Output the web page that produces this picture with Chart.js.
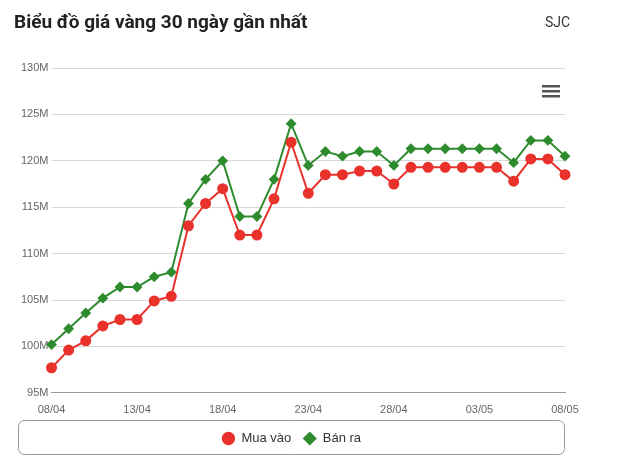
<!DOCTYPE html>
<html><head><meta charset="utf-8">
<script src="https://cdn.jsdelivr.net/npm/chart.js@4"></script>
<style>
body{margin:0;background:#fff;font-family:Roboto,"Open Sans",sans-serif;}
#wrap{position:relative;width:640px;height:469px;}
#t{position:absolute;left:14px;top:10px;font-size:19px;font-weight:bold;color:#222;}
#s{position:absolute;left:545px;top:14px;font-size:14px;color:#333;}
canvas{position:absolute;left:0;top:0;}
</style></head><body>
<div id="wrap"><canvas id="c" width="640" height="469"></canvas>
<div id="t">Biểu đồ giá vàng 30 ngày gần nhất</div><div id="s">SJC</div></div>
<script>
const labels=["08/04","09/04","10/04","11/04","12/04","13/04","14/04","15/04","16/04","17/04","18/04","19/04","20/04","21/04","22/04","23/04","24/04","25/04","26/04","27/04","28/04","29/04","30/04","01/05","02/05","03/05","04/05","05/05","06/05","07/05","08/05"];
const muaVao=[97.7,99.6,100.6,102.2,102.9,102.9,104.9,105.4,113,115.4,117,112,112,115.9,122,116.5,118.5,118.5,118.9,118.9,117.5,119.3,119.3,119.3,119.3,119.3,119.3,117.8,120.2,120.2,118.5];
const banRa=[100.2,101.9,103.6,105.2,106.4,106.4,107.5,108,115.4,118,120,114,114,118,124,119.5,121,120.5,121,121,119.5,121.3,121.3,121.3,121.3,121.3,121.3,119.8,122.2,122.2,120.5];
const boxPlugin={id:'box',afterDraw(ch){const l=ch.legend,x=ch.ctx;x.save();x.strokeStyle='#999';x.lineWidth=1;x.beginPath();x.roundRect(l.left+0.5,l.top+0.5,l.width-1,l.height-1,6);x.stroke();
x.fillStyle='#555';for(let i=0;i<3;i++){x.fillRect(542,85+i*5,18,2.5);}x.restore();}};
new Chart(document.getElementById('c'),{type:'line',data:{labels,datasets:[
{label:'Mua vào',data:muaVao,borderColor:'#e8322b',backgroundColor:'#e8322b',pointStyle:'circle',pointRadius:4.5,borderWidth:2,tension:0},
{label:'Bán ra',data:banRa,borderColor:'#2e8b2e',backgroundColor:'#2e8b2e',pointStyle:'rectRot',pointRadius:4,borderWidth:2,tension:0}]},
options:{responsive:false,animation:false,layout:{padding:{top:68,right:75,left:18,bottom:14}},
plugins:{title:{display:false},tooltip:{enabled:false},legend:{position:'bottom',labels:{usePointStyle:true,color:'#333',font:{size:13},padding:12,boxHeight:8}}},
scales:{y:{min:95,max:130,ticks:{stepSize:5,color:'#666',font:{size:11},callback:v=>v+'M'},grid:{color:'#d8d8d8',drawTicks:false},border:{display:false}},
x:{offset:false,ticks:{color:'#666',font:{size:11},autoSkip:false,maxRotation:0,callback:function(v,i){return i%5===0?labels[i]:'';}},grid:{display:false},border:{color:'#999'}}}},plugins:[boxPlugin]});
</script></body></html>
